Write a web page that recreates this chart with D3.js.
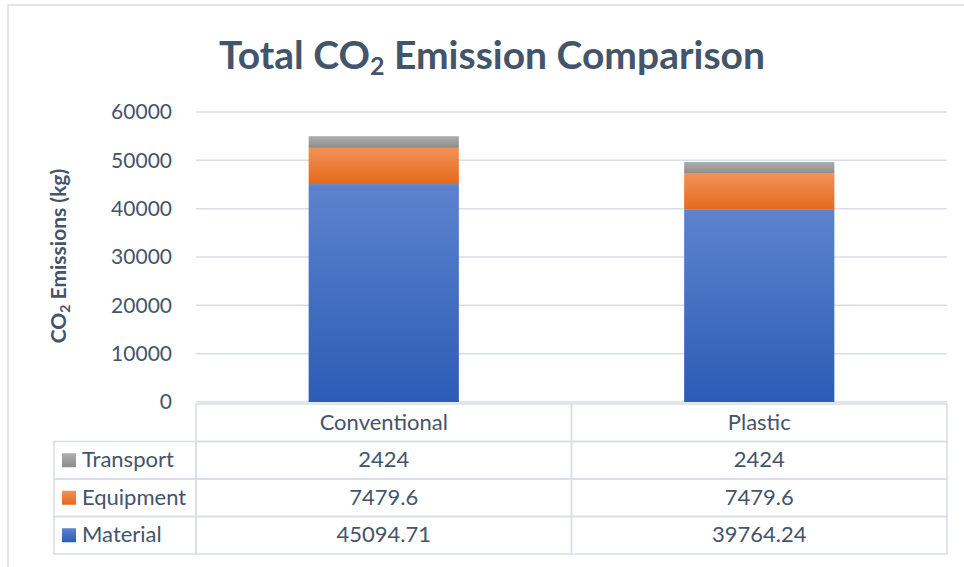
<!DOCTYPE html>
<html>
<head>
<meta charset="utf-8">
<script src="https://cdn.jsdelivr.net/npm/d3@7"></script>
<style>
  body { margin: 0; background: #fff; }
  text { font-family: Lato, "Open Sans", sans-serif; fill: #44546A; }
</style>
</head>
<body>
<div id="canvas"></div>
<script>
var w = 964;
var h = 567;

// data
var categories = ["Conventional", "Plastic"];
var seriesNames = ["Material", "Equipment", "Transport"];
var material = [45094.71, 39764.24];
var equipment = [7479.6, 7479.6];
var transport = [2424, 2424];
var yTicks = [0, 10000, 20000, 30000, 40000, 50000, 60000];

var seriesValues = { "Material": material, "Equipment": equipment, "Transport": transport };
var tableLabels = { "Material": ["45094.71", "39764.24"], "Equipment": ["7479.6", "7479.6"], "Transport": ["2424", "2424"] };

var colors = {
    "Material": ["#5D83CD", "#2C5CB6"],
    "Equipment": ["#F29258", "#E46A1B"],
    "Transport": ["#AEAEAE", "#8C8C8C"]
};

var lineColor = "#D9DEE6";

var svg = d3.select("#canvas").append("svg")
    .attr("width", w)
    .attr("height", h);

// gradients
var defs = svg.append("defs");
seriesNames.forEach(function(s) {
    var g = defs.append("linearGradient")
        .attr("id", "grad-" + s)
        .attr("x1", 0).attr("y1", 0).attr("x2", 0).attr("y2", 1);
    g.append("stop").attr("offset", "0%").attr("stop-color", colors[s][0]);
    g.append("stop").attr("offset", "100%").attr("stop-color", colors[s][1]);
});

// outer chart frame
svg.append("rect")
    .attr("x", 8).attr("y", 5)
    .attr("width", w + 20).attr("height", h + 20)
    .attr("fill", "none")
    .attr("stroke", lineColor)
    .attr("stroke-width", 1.5);

var plotLeft = 196, plotRight = 947, plotTop = 112, plotBottom = 402;

var xScale = d3.scaleBand()
    .domain(categories)
    .range([plotLeft, plotRight])
    .paddingInner(0.6)
    .paddingOuter(0.3);

var yScale = d3.scaleLinear()
    .domain([0, 60000])
    .range([plotBottom, plotTop]);

// gridlines
svg.append("g").selectAll("line")
    .data(yTicks)
    .enter().append("line")
    .attr("x1", plotLeft)
    .attr("x2", plotRight)
    .attr("y1", d => yScale(d))
    .attr("y2", d => yScale(d))
    .attr("stroke", lineColor)
    .attr("stroke-width", 1.5);

// y axis labels
var yAxis = d3.axisLeft(yScale)
    .tickValues(yTicks)
    .tickSize(0)
    .tickPadding(24)
    .tickFormat(d3.format("d"));

var ag = svg.append("g")
    .attr("transform", `translate(${plotLeft},0)`)
    .call(yAxis);
ag.select(".domain").remove();
ag.selectAll("text")
    .style("font-family", "Lato, sans-serif")
    .style("font-size", "21px")
    .attr("fill", "#44546A");

// stacked bars
var rows = categories.map(function(c, i) {
    var r = { category: c };
    seriesNames.forEach(function(s) { r[s] = seriesValues[s][i]; });
    return r;
});
var stacked = d3.stack().keys(seriesNames)(rows);

svg.append("g").selectAll("g")
    .data(stacked)
    .enter().append("g")
    .attr("fill", d => "url(#grad-" + d.key + ")")
    .selectAll("rect")
    .data(d => d)
    .enter().append("rect")
    .attr("x", d => xScale(d.data.category))
    .attr("width", xScale.bandwidth())
    .attr("y", d => yScale(d[1]))
    .attr("height", d => yScale(d[0]) - yScale(d[1]));

// title
var title = svg.append("text")
    .attr("x", 492)
    .attr("y", 69)
    .attr("text-anchor", "middle")
    .style("font-size", "39px")
    .style("font-weight", "bold");
title.append("tspan").text("Total CO");
title.append("tspan").text("2").style("font-size", "25px").attr("dy", 6);
title.append("tspan").text(" Emission Comparison").attr("dy", -6);

// y axis title
var yt = svg.append("text")
    .attr("transform", "translate(66,256) rotate(-90)")
    .attr("text-anchor", "middle")
    .style("font-size", "21px")
    .style("font-weight", "bold");
yt.append("tspan").text("CO");
yt.append("tspan").text("2").style("font-size", "14px").attr("dy", 4);
yt.append("tspan").text(" Emissions (kg)").attr("dy", -4);

// data table
var tableTop = 404, rowH = 37.5, legendLeft = 54;
var tableRows = seriesNames.slice().reverse(); // Transport, Equipment, Material
var colW = (plotRight - plotLeft) / categories.length;
var tg = svg.append("g");

function cell(x, y, width) {
    tg.append("rect")
        .attr("x", x).attr("y", y)
        .attr("width", width).attr("height", rowH)
        .attr("fill", "none").attr("stroke", lineColor).attr("stroke-width", 1.5);
}

// header cells
categories.forEach(function(c, i) {
    cell(plotLeft + i * colW, tableTop, colW);
    tg.append("text")
        .attr("x", xScale(c) + xScale.bandwidth() / 2)
        .attr("y", tableTop + rowH / 2 + 7)
        .attr("text-anchor", "middle")
        .style("font-size", "22px")
        .text(c);
});

tableRows.forEach(function(s, r) {
    var y0 = tableTop + rowH * (r + 1);
    cell(legendLeft, y0, plotLeft - legendLeft);
    tg.append("rect")
        .attr("x", 62).attr("y", y0 + rowH / 2 - 7)
        .attr("width", 14).attr("height", 14)
        .attr("fill", "url(#grad-" + s + ")");
    tg.append("text")
        .attr("x", 82)
        .attr("y", y0 + rowH / 2 + 7)
        .style("font-size", "22px")
        .text(s);
    categories.forEach(function(c, i) {
        cell(plotLeft + i * colW, y0, colW);
        tg.append("text")
            .attr("x", xScale(c) + xScale.bandwidth() / 2)
            .attr("y", y0 + rowH / 2 + 7)
            .attr("text-anchor", "middle")
            .style("font-size", "22px")
            .text(tableLabels[s][i]);
    });
});
</script>
</body>
</html>
